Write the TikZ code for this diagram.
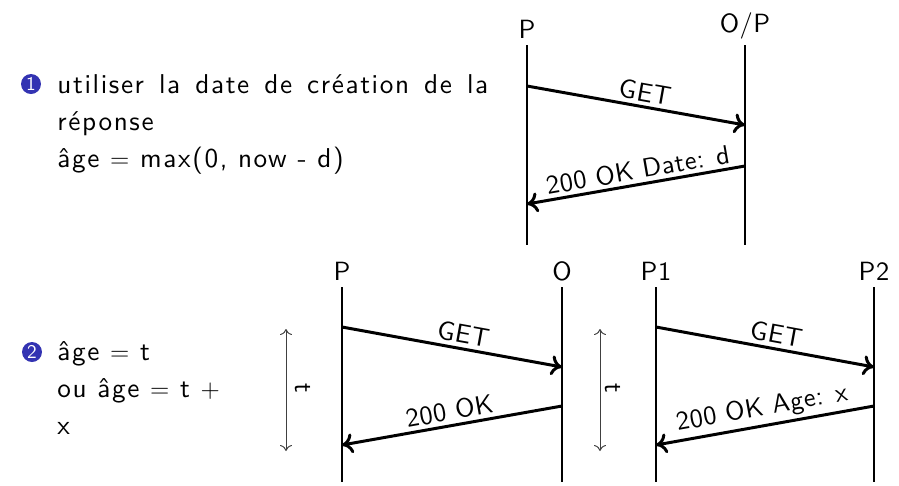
\documentclass[tikz,border=0pt]{standalone}
\usepackage{fontspec}
\setsansfont{lmsans10-regular}[Extension=.otf, LetterSpace=6]
\newfontfamily\labelsans{lmsans10-regular}[Extension=.otf, LetterSpace=2]
\renewcommand{\familydefault}{\sfdefault}
\usetikzlibrary{arrows.meta, positioning}
\definecolor{ballblue}{RGB}{51,51,178}

\begin{document}
\begin{tikzpicture}[
    x=0.02cm, y=-0.02cm,
    % Node styles
    actor/.style={
        anchor=south,
        font=\labelsans\fontsize{15}{18}\selectfont
    },
    lifeline/.style={
        line width=0.6pt,
        black
    },
    msg/.style={
        -{To[length=2.2mm, width=4mm]},
        line width=1.7pt
    },
    msglabel/.style={
        above,
        sloped,
        inner sep=2pt,
        font=\labelsans\fontsize{15}{18}\selectfont
    },
    span/.style={
        {To[length=1.2mm, width=2.4mm]}-{To[length=1.2mm, width=2.4mm]},
        line width=0.55pt,
        black!75
    },
    spanlabel/.style={
        rotate=-90,
        inner sep=0pt,
        font=\labelsans\fontsize{15}{18}\selectfont
    },
    ball/.style={
        circle,
        fill=ballblue,
        text=white,
        inner sep=0pt,
        minimum size=0.4cm,
        font=\labelsans\fontsize{11}{11}\selectfont
    },
    itemtext/.style={
        anchor=north west,
        inner sep=0pt,
        align=left,
        font=\fontsize{15.5}{21}\selectfont
    }
]
\useasboundingbox (0,0) rectangle (899,485);

% --- Item texts ---
\node[ball] (ball1) at (31,84) {1};
\node[itemtext] (item1) at (57,74) {\makebox[8.62cm][s]{utiliser la date de création de la}\\ réponse\\ âge $=$ max(0, now - d)};

\node[ball] (ball2) at (32,352) {2};
\node[itemtext] (item2) at (57,341) {âge $=$ t\\ ou âge $=$ t $+$\\ x};

% --- Top exchange: P and O/P ---
\coordinate (pTop) at (527,45);
\coordinate (pBot) at (527,245);
\coordinate (opTop) at (745,45);
\coordinate (opBot) at (745,245);
\node[actor] (pLbl) at (pTop) {P};
\node[actor] (opLbl) at (opTop) {O/P};
\draw[lifeline] (pTop) -- (pBot);
\draw[lifeline] (opTop) -- (opBot);

\coordinate (getOut) at (527,86);
\coordinate (getIn) at (745,125);
\coordinate (okOut) at (745,166);
\coordinate (okIn) at (527,204);
\draw[msg] (getOut) -- node[msglabel, pos=0.53] {GET} (getIn);
\draw[msg] (okOut) -- node[msglabel, pos=0.48] {200 OK Date: d} (okIn);

% --- Bottom left exchange: P and O ---
\coordinate (qTop) at (342,287);
\coordinate (qBot) at (342,482);
\coordinate (oTop) at (562,287);
\coordinate (oBot) at (562,482);
\node[actor] (qLbl) at (qTop) {P};
\node[actor] (oLbl) at (oTop) {O};
\draw[lifeline] (qTop) -- (qBot);
\draw[lifeline] (oTop) -- (oBot);

\coordinate (get2Out) at (342,327);
\coordinate (get2In) at (562,367);
\coordinate (ok2Out) at (562,406);
\coordinate (ok2In) at (342,445);
\draw[msg] (get2Out) -- node[msglabel, pos=0.54] {GET} (get2In);
\draw[msg] (ok2Out) -- node[msglabel, pos=0.5] {200 OK} (ok2In);

\coordinate (t2Top) at (286,329);
\coordinate (t2Bot) at (286,451);
\draw[span] (t2Top) -- (t2Bot);
\node[spanlabel] (t2Lbl) at (303,388) {t};

% --- Bottom right exchange: P1 and P2 ---
\coordinate (r1Top) at (656,287);
\coordinate (r1Bot) at (656,482);
\coordinate (r2Top) at (874,287);
\coordinate (r2Bot) at (874,482);
\node[actor] (r1Lbl) at (r1Top) {P1};
\node[actor] (r2Lbl) at (r2Top) {P2};
\draw[lifeline] (r1Top) -- (r1Bot);
\draw[lifeline] (r2Top) -- (r2Bot);

\coordinate (get3Out) at (656,327);
\coordinate (get3In) at (874,367);
\coordinate (ok3Out) at (874,406);
\coordinate (ok3In) at (656,445);
\draw[msg] (get3Out) -- node[msglabel, pos=0.54] {GET} (get3In);
\draw[msg] (ok3Out) -- node[msglabel, pos=0.5] {200 OK Age: x} (ok3In);

\coordinate (t3Top) at (600,329);
\coordinate (t3Bot) at (600,451);
\draw[span] (t3Top) -- (t3Bot);
\node[spanlabel] (t3Lbl) at (613,388) {t};

\end{tikzpicture}
\end{document}
